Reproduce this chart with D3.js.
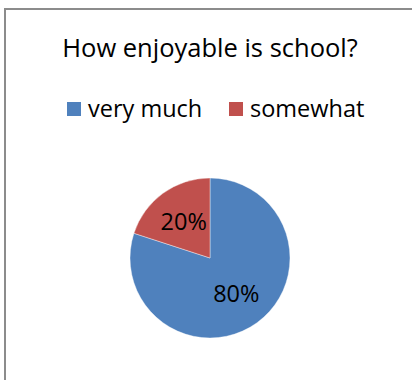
<!DOCTYPE html>
<html>
<head>
<meta charset="utf-8">
<script src="https://cdn.jsdelivr.net/npm/d3@7"></script>
<style>
  html, body { margin: 0; padding: 0; background: #fff; }
  svg { display: block; }
  text { font-family: "Open Sans", "Noto Sans", sans-serif; fill: #000; }
</style>
</head>
<body>
<svg id="chart" width="412" height="380"></svg>
<script>
// Survey answers: share of pupils per response
const title = "How enjoyable is school?";
const categories = ["very much", "somewhat"];
const values = [80, 20];
const colors = ["#4F81BD", "#C0504D"];

const svg = d3.select("#chart");
const W = 412, H = 380;

// Chart area frame (extends past the visible region on the right and bottom)
svg.append("rect")
  .attr("x", 5).attr("y", 9)
  .attr("width", W + 20).attr("height", H + 20)
  .attr("fill", "#fff")
  .attr("stroke", "#8c8c8c")
  .attr("stroke-width", 2);

// Title
svg.append("text")
  .attr("x", 210).attr("y", 57)
  .attr("text-anchor", "middle")
  .attr("font-size", 25.5)
  .text(title);

// Legend
const color = d3.scaleOrdinal().domain(categories).range(colors);
const legendX = d3.scaleOrdinal().domain(categories).range([67, 229]);
const legend = svg.append("g").selectAll("g")
  .data(categories)
  .join("g")
  .attr("transform", d => `translate(${legendX(d)},102)`);
legend.append("rect")
  .attr("width", 14).attr("height", 14)
  .attr("fill", d => color(d));
legend.append("text")
  .attr("x", 21).attr("y", 15)
  .attr("font-size", 23.5)
  .text(d => d);

// Pie
const cx = 210, cy = 258, r = 80;
const pie = d3.pie().sort(null).value(d => d.value);
const arcs = pie(categories.map((c, i) => ({ category: c, value: values[i] })));
const arc = d3.arc().innerRadius(0).outerRadius(r);
const labelArc = d3.arc().innerRadius(r * 0.56).outerRadius(r * 0.56);
const total = d3.sum(values);

const g = svg.append("g").attr("transform", `translate(${cx},${cy})`);
g.selectAll("path")
  .data(arcs)
  .join("path")
  .attr("d", arc)
  .attr("fill", d => color(d.data.category))
  .attr("stroke", "#fff")
  .attr("stroke-width", 0.4);

g.selectAll("text.label")
  .data(arcs)
  .join("text")
  .attr("class", "label")
  .attr("transform", d => `translate(${labelArc.centroid(d)})`)
  .attr("text-anchor", "middle")
  .attr("dy", "0.35em")
  .attr("font-size", 23.5)
  .text(d => Math.round(d.data.value / total * 100) + "%");
</script>
</body>
</html>
